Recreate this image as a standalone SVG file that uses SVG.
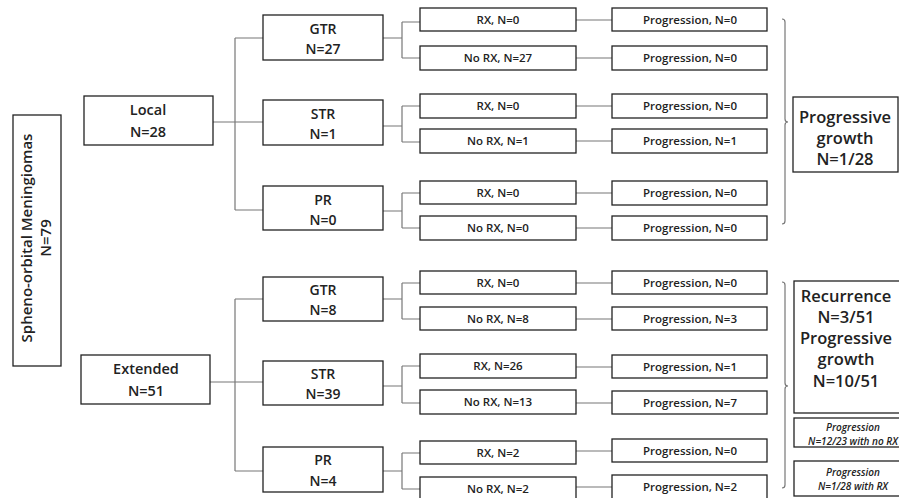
<svg xmlns="http://www.w3.org/2000/svg" width="899" height="498" viewBox="0 0 899 498">
<style>
.b{fill:#fff;stroke:#222;stroke-width:1.3}
.c{fill:none;stroke:#777;stroke-width:1.2}
text{font-family:"Open Sans","Liberation Sans",Arial,sans-serif;font-weight:600;fill:#222;text-anchor:middle}
.s{font-size:11.5px}
.m{font-size:14px}
.l{font-size:14.5px}
.r{font-size:15px}
.x{font-size:16.5px}
.i{font-size:10px;font-style:italic}
</style>
<rect width="899" height="498" fill="#fff"/>
<g id="connectors" class="c">
<path d="M213,122H235M235,38V210M235,38H263M235,122H263M235,210H263"/>
<path d="M383,38H402M402,22V58M402,22H420M402,58H420"/>
<path d="M383,126H402M402,106V142M402,106H420M402,142H420"/>
<path d="M383,211H402M402,193V228M402,193H420M402,228H420"/>
<path d="M576,20H612M576,58H612M576,106H612M576,141H612M576,193H612M576,228H612"/>
<path d="M210,382H235M235,299V471M235,299H263M235,382H263M235,471H263"/>
<path d="M383,299H402M402,283V319M402,283H420M402,319H420"/>
<path d="M383,386H402M402,366V403M402,366H420M402,403H420"/>
<path d="M383,471H402M402,453V489M402,453H420M402,489H420"/>
<path d="M576,283H612M576,319H612M576,367H612M576,403H612M576,451H612M576,487H612"/>
<path d="M782,19Q785,19 785,22V119Q785,122 788,122Q785,122 785,125V221Q785,224 782,224"/>
<path d="M782,282Q785,282 785,285V383Q785,386 788,386Q785,386 785,389V485Q785,488 782,488"/>
</g>
<g id="root"><rect class="b" x="13" y="115" width="48" height="251"/>
<text class="r" transform="translate(32,238) rotate(-90)">Spheno-orbital Meningiomas</text>
<text class="r" transform="translate(51,238) rotate(-90)">N=79</text></g>
<g id="local"><rect class="b" x="84" y="96" width="129" height="49"/><text class="l" x="148" y="115">Local</text><text class="l" x="148" y="137">N=28</text></g>
<g id="extended"><rect class="b" x="81" y="355" width="129" height="49"/><text class="l" x="146" y="374">Extended</text><text class="l" x="146" y="396">N=51</text></g>
<g id="l-gtr"><rect class="b" x="263" y="15" width="120" height="45"/><text class="m" x="323" y="34">GTR</text><text class="m" x="323" y="54">N=27</text></g>
<g id="l-str"><rect class="b" x="263" y="100" width="120" height="45"/><text class="m" x="323" y="119">STR</text><text class="m" x="323" y="139">N=1</text></g>
<g id="l-pr"><rect class="b" x="263" y="186" width="120" height="44"/><text class="m" x="323" y="205">PR</text><text class="m" x="323" y="225">N=0</text></g>
<g id="e-gtr"><rect class="b" x="263" y="277" width="120" height="44"/><text class="m" x="323" y="295">GTR</text><text class="m" x="323" y="315">N=8</text></g>
<g id="e-str"><rect class="b" x="263" y="361" width="120" height="44"/><text class="m" x="323" y="379">STR</text><text class="m" x="323" y="399">N=39</text></g>
<g id="e-pr"><rect class="b" x="263" y="447" width="120" height="45"/><text class="m" x="323" y="465">PR</text><text class="m" x="323" y="486">N=4</text></g>
<g id="l-gtr-rx"><rect class="b" x="420" y="8" width="156" height="23"/><text class="s" x="498" y="24">RX, N=0</text></g>
<g id="l-gtr-norx"><rect class="b" x="420" y="46" width="156" height="24"/><text class="s" x="498" y="62">No RX, N=27</text></g>
<g id="l-str-rx"><rect class="b" x="420" y="94" width="156" height="24"/><text class="s" x="498" y="110">RX, N=0</text></g>
<g id="l-str-norx"><rect class="b" x="420" y="129" width="156" height="24"/><text class="s" x="498" y="145">No RX, N=1</text></g>
<g id="l-pr-rx"><rect class="b" x="420" y="181" width="156" height="23"/><text class="s" x="498" y="197">RX, N=0</text></g>
<g id="l-pr-norx"><rect class="b" x="420" y="216" width="156" height="24"/><text class="s" x="498" y="232">No RX, N=0</text></g>
<g id="e-gtr-rx"><rect class="b" x="420" y="271" width="156" height="23"/><text class="s" x="498" y="287">RX, N=0</text></g>
<g id="e-gtr-norx"><rect class="b" x="420" y="307" width="156" height="23"/><text class="s" x="498" y="323">No RX, N=8</text></g>
<g id="e-str-rx"><rect class="b" x="420" y="354" width="156" height="24"/><text class="s" x="498" y="370">RX, N=26</text></g>
<g id="e-str-norx"><rect class="b" x="420" y="390" width="156" height="24"/><text class="s" x="498" y="406">No RX, N=13</text></g>
<g id="e-pr-rx"><rect class="b" x="420" y="441" width="156" height="23"/><text class="s" x="498" y="457">RX, N=2</text></g>
<g id="e-pr-norx"><rect class="b" x="420" y="477" width="156" height="24"/><text class="s" x="498" y="493">No RX, N=2</text></g>
<g id="p1"><rect class="b" x="612" y="8" width="155" height="23"/><text class="s" x="690" y="24">Progression, N=0</text></g>
<g id="p2"><rect class="b" x="612" y="46" width="155" height="24"/><text class="s" x="690" y="62">Progression, N=0</text></g>
<g id="p3"><rect class="b" x="612" y="94" width="155" height="24"/><text class="s" x="690" y="110">Progression, N=0</text></g>
<g id="p4"><rect class="b" x="612" y="129" width="155" height="24"/><text class="s" x="690" y="145">Progression, N=1</text></g>
<g id="p5"><rect class="b" x="612" y="181" width="155" height="24"/><text class="s" x="690" y="197">Progression, N=0</text></g>
<g id="p6"><rect class="b" x="612" y="216" width="155" height="24"/><text class="s" x="690" y="232">Progression, N=0</text></g>
<g id="p7"><rect class="b" x="612" y="271" width="155" height="23"/><text class="s" x="690" y="287">Progression, N=0</text></g>
<g id="p8"><rect class="b" x="612" y="307" width="155" height="23"/><text class="s" x="690" y="323">Progression, N=3</text></g>
<g id="p9"><rect class="b" x="612" y="355" width="155" height="23"/><text class="s" x="690" y="371">Progression, N=1</text></g>
<g id="p10"><rect class="b" x="612" y="391" width="155" height="23"/><text class="s" x="690" y="407">Progression, N=7</text></g>
<g id="p11"><rect class="b" x="612" y="439" width="155" height="23"/><text class="s" x="690" y="455">Progression, N=0</text></g>
<g id="p12"><rect class="b" x="612" y="475" width="155" height="24"/><text class="s" x="690" y="491">Progression, N=2</text></g>
<g id="sum-local"><rect class="b" x="793" y="97" width="105" height="75"/><text class="x" x="845" y="123">Progressive</text><text class="x" x="845" y="144">growth</text><text class="x" x="845" y="165">N=1/28</text></g>
<g id="sum-ext"><rect class="b" x="794" y="281" width="110" height="132"/><text class="x" x="846" y="302">Recurrence</text><text class="x" x="846" y="323">N=3/51</text><text class="x" x="846" y="344">Progressive</text><text class="x" x="846" y="365">growth</text><text class="x" x="846" y="387">N=10/51</text></g>
<g id="sum-norx"><rect class="b" x="794" y="418" width="110" height="29"/><text class="i" x="853" y="431">Progression</text><text class="i" x="853" y="444.5">N=12/23 with no RX</text></g>
<g id="sum-rx"><rect class="b" x="794" y="461" width="110" height="35"/><text class="i" x="853" y="476">Progression</text><text class="i" x="853" y="490">N=1/28 with RX</text></g>
</svg>
